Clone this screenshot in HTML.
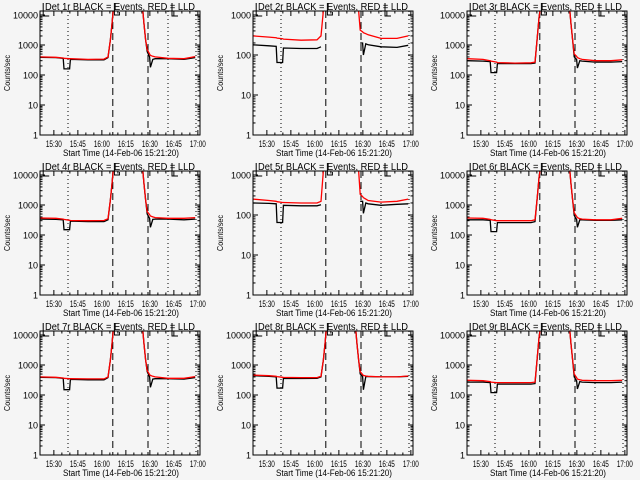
<!DOCTYPE html>
<html><head><meta charset="utf-8"><style>
html,body{margin:0;padding:0;background:#f5f5f5;}
svg{display:block;font-family:"Liberation Sans",sans-serif;}
</style></head><body>
<svg id="chart" width="640" height="480"></svg>
<script>
const T = [0,10,14.5,15,18.5,19,30,40,42.5,44,45,46,64,65,66,67,68.5,69,70.5,72,80,90,97];
const detNames = ['1r','2r','3r','4r','5r','6r','7r','8r','9r'];
const decades = [4,3,4,4,3,4,4,4,4];
const redVals = [
 [400,390,370,360,350,350,330,340,400,1500,5000,20000,20000,5000,1500,700,500,450,420,400,360,350,410],
 [300,280,270,265,255,250,235,240,300,1300,5000,20000,20000,5000,1300,420,380,360,340,320,260,260,300],
 [350,330,300,290,270,260,250,255,270,2000,8000,20000,20000,5000,1500,500,420,380,350,330,300,300,320],
 [370,360,340,330,310,305,300,305,350,1500,5000,20000,20000,5000,1500,600,480,430,400,380,360,360,380],
 [250,230,220,215,205,205,200,200,220,1300,5000,20000,20000,5000,1300,330,290,270,250,230,210,220,250],
 [370,360,330,320,300,300,300,300,320,2000,8000,20000,20000,5000,1500,550,420,380,350,340,320,320,360],
 [400,390,370,360,350,350,345,345,400,1500,5000,20000,20000,5000,1500,650,480,450,420,400,360,360,410],
 [460,440,420,410,390,385,380,380,420,1500,5000,20000,20000,5000,1500,600,480,450,430,420,400,400,430],
 [310,300,280,270,260,260,260,260,270,2000,8000,20000,20000,5000,1500,500,380,340,320,310,300,300,310]
];
const blackVals = [
 [390,380,360,160,160,330,320,320,380,1500,5000,20000,20000,5000,1500,600,400,180,330,350,350,330,380],
 [180,170,165,65,65,150,145,145,160,null,null,null,null,null,null,200,200,100,190,180,160,155,175],
 [300,290,280,120,120,240,240,240,250,2000,8000,20000,20000,5000,1500,400,330,170,300,290,270,270,280],
 [340,330,320,150,150,290,280,280,320,1500,5000,20000,20000,5000,1500,500,360,180,330,340,340,320,340],
 [200,195,190,65,65,175,170,170,180,null,null,null,null,null,null,220,220,110,200,190,175,185,190],
 [320,320,310,130,130,260,260,260,280,2000,8000,20000,20000,5000,1500,450,330,180,320,320,310,310,320],
 [390,380,360,150,150,330,320,320,380,1500,5000,20000,20000,5000,1500,600,400,180,340,350,350,340,380],
 [440,420,400,170,170,360,355,360,400,1500,5000,20000,20000,5000,1500,500,420,150,410,410,400,400,420],
 [270,270,260,120,120,230,230,230,240,2000,8000,20000,20000,5000,1500,400,300,160,280,270,260,260,270]
];
const dottedTimes = [17.5,80,97.5];
const dashedTimes = [45.5,67.5];
const xTickLabels = ['15:30','15:45','16:00','16:15','16:30','16:45','17:00'];
const xTickTimes = [8.667,23.667,38.667,53.667,68.667,83.667,98.667];

const NS='http://www.w3.org/2000/svg';
const svg=document.getElementById('chart');
function mk(tag,attrs,parent){const e=document.createElementNS(NS,tag);for(const k in attrs)e.setAttribute(k,attrs[k]);(parent||svg).appendChild(e);return e;}
const colOff=[0,213,427], W=160, H=124;
for(let p=0;p<9;p++){
  const c=p%3, r=Math.floor(p/3);
  const L=colOff[c]+40, Tp=r*160+11, B=Tp+H, R=L+W;
  const dec=decades[p], pxDec=dec===4?30:40;
  const xs=t=>L+t*1.6;
  const ys=v=>B-Math.log10(v)*pxDec;
  const g=mk('g',{});
  
  
  const cp=mk('clipPath',{id:'cp'+p},g);
  mk('rect',{x:L,y:Tp,width:W,height:H},cp);
  const tt=mk('text',{x:L+5,y:Tp-1,'font-size':'10',textLength:'150',lengthAdjust:'spacingAndGlyphs'},g);
  tt.textContent='Det '+detNames[p]+' BLACK = Events, RED = LLD';
  
  
  const yl=mk('text',{x:0,y:0,'text-anchor':'middle','font-size':'8',textLength:'36',lengthAdjust:'spacingAndGlyphs',transform:`translate(${L-30},${Tp+62}) rotate(-90)`},g);
  yl.textContent='Counts/sec';
  
  
  for(let d=0;d<=dec;d++){
    const y=ys(Math.pow(10,d));
    mk('line',{x1:L,y1:y,x2:L+5,y2:y,stroke:'#000'},g);
    mk('line',{x1:R,y1:y,x2:R-5,y2:y,stroke:'#000'},g);
    const s=String(Math.pow(10,d));
    const lb=mk('text',{x:L-2-s.length*5,y:y+3.5,'font-size':'9',textLength:String(s.length*5),lengthAdjust:'spacingAndGlyphs'},g);
    lb.textContent=s;
    
    
    if(d<dec){for(let m=2;m<=9;m++){const ym=ys(m*Math.pow(10,d));
      mk('line',{x1:L,y1:ym,x2:L+2.5,y2:ym,stroke:'#000'},g);
      mk('line',{x1:R,y1:ym,x2:R-2.5,y2:ym,stroke:'#000'},g);}}
  }
  xTickTimes.forEach((t,i)=>{
    const x=xs(t);
    mk('line',{x1:x,y1:B,x2:x,y2:B-5,stroke:'#000'},g);
    mk('line',{x1:x,y1:Tp,x2:x,y2:Tp+5,stroke:'#000'},g);
    for(let k=1;k<3;k++){const xm=xs(t+5*k);if(xm<R){
      mk('line',{x1:xm,y1:B,x2:xm,y2:B-2.5,stroke:'#000'},g);
      mk('line',{x1:xm,y1:Tp,x2:xm,y2:Tp+2.5,stroke:'#000'},g);}}
    const lb=mk('text',{x:x-8,y:B+12,'font-size':'9',textLength:'16',lengthAdjust:'spacingAndGlyphs'},g);
    lb.textContent=xTickLabels[i];
    
    
  });
  const xt=mk('text',{x:L+23,y:B+21,'font-size':'9',textLength:'116',lengthAdjust:'spacingAndGlyphs'},g);
  xt.textContent='Start Time (14-Feb-06 15:21:20)';
  
  
  dottedTimes.forEach(t=>{const l=mk('line',{x1:xs(t),y1:Tp,x2:xs(t),y2:B,stroke:'#000','stroke-dasharray':'1,3'},g);
    });
  dashedTimes.forEach(t=>{const l=mk('line',{x1:xs(t),y1:Tp,x2:xs(t),y2:B,stroke:'#000','stroke-dasharray':'7,4'},g);
    });
  [[2,'E'],[46.5,'S'],[82.5,'E']].forEach(([t,k])=>{const x=xs(t);
    const d=k==='E'?`M${x},${Tp-8} V${Tp+5} H${x+6}`:`M${x},${Tp-8} V${Tp+4} H${x+5} V${Tp+1}`;
    const m=mk('path',{d:d,fill:'none',stroke:'#000'},g);
    });
  function series(vals,color,name){
    let d='',pen=false;
    vals.forEach((v,i)=>{if(v==null){pen=false;return;}d+=(pen?'L':'M')+xs(T[i]).toFixed(1)+','+ys(v).toFixed(1)+' ';pen=true;});
    const pl=mk('path',{d:d,fill:'none',stroke:color,'stroke-width':'1.3','clip-path':`url(#cp${p})`},g);
    
    
  }
  series(blackVals[p],'#000','events-line');
  series(redVals[p],'#f00','lld-line');
  const box=mk('rect',{x:L,y:Tp,width:W,height:H,fill:'none',stroke:'#000'},g);
  
  
}
</script>
</body></html>
